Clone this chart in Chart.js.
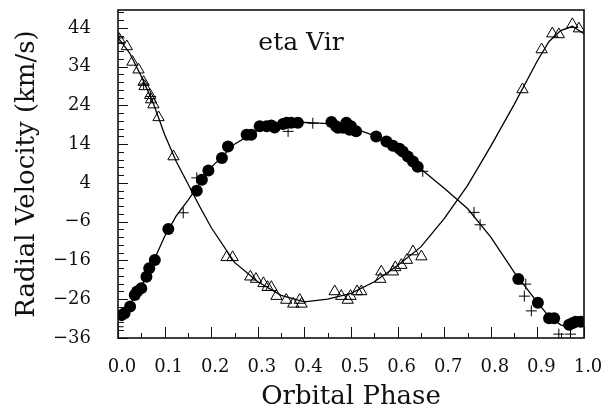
<!DOCTYPE html>
<html><head><meta charset="utf-8">
<script src="https://cdn.jsdelivr.net/npm/chart.js@4/dist/chart.umd.min.js"></script>
<style>html,body{margin:0;padding:0;background:#fff}</style>
</head><body>
<canvas id="c" width="604" height="408"></canvas>
<script>
// ---- data ----
const primaryPhase = [0.008,0.014,0.026,0.036,0.041,0.05,0.061,0.067,0.079,0.108,0.169,0.18,0.194,0.223,0.236,0.276,0.286,0.304,0.319,0.329,0.336,0.354,0.362,0.372,0.386,0.458,0.468,0.472,0.483,0.49,0.497,0.5,0.511,0.554,0.576,0.59,0.604,0.611,0.622,0.633,0.643,0.859,0.901,0.925,0.936,0.968,0.975,0.982,0.993];
const primaryVel   = [-30.1,-29.6,-27.9,-24.9,-24.0,-23.2,-20.2,-18.0,-15.9,-7.9,2.0,4.8,7.2,10.4,13.4,16.4,16.4,18.6,18.6,18.8,18.3,19.2,19.5,19.5,19.5,19.7,18.6,18.2,18.2,19.5,17.7,18.6,17.3,16.0,14.7,13.6,12.8,12.1,10.8,9.5,8.2,-20.8,-26.9,-30.9,-30.9,-32.6,-32.2,-31.8,-31.8];

const secondaryPhase = [0.003,0.019,0.031,0.044,0.055,0.057,0.069,0.071,0.076,0.087,0.119,0.233,0.246,0.284,0.296,0.312,0.321,0.329,0.34,0.361,0.376,0.39,0.394,0.465,0.479,0.493,0.499,0.513,0.522,0.563,0.565,0.59,0.595,0.608,0.62,0.633,0.651,0.868,0.909,0.932,0.946,0.975,0.989];
const secondaryVel   = [41.0,39.2,35.2,33.2,30.0,28.9,26.6,25.5,24.2,20.9,10.8,-15.2,-15.2,-20.2,-20.8,-21.9,-22.9,-22.9,-25.2,-26.2,-27.2,-26.2,-27.2,-24.0,-25.2,-26.2,-25.2,-24.0,-24.0,-20.8,-18.9,-18.9,-17.8,-17.2,-15.9,-13.7,-15.0,28.1,38.4,42.5,42.3,44.9,43.8];

const otherPhase = [0.002,0.055,0.07,0.0,0.14,0.169,0.365,0.418,0.654,0.764,0.777,0.875,0.872,0.887,0.946,0.971];
const otherVel   = [41.4,29.5,26.3,-33.1,-3.7,5.3,17.3,19.4,7.0,-3.6,-6.8,-22.1,-25.2,-29.0,-35.0,-35.0];

const fitPrimaryPhase = [0,0.025,0.05,0.075,0.1,0.125,0.15,0.175,0.2,0.25,0.3,0.35,0.4,0.45,0.5,0.55,0.6,0.65,0.7,0.75,0.8,0.85,0.9,0.925,0.95,0.965,1.0];
const fitPrimaryVel   = [-30.5,-27.5,-22.8,-16.5,-9.8,-4.5,-0.5,3.8,8.0,14.0,17.6,19.2,19.6,19.3,18.3,16.2,12.5,7.6,2.6,-2.6,-10.0,-19.0,-26.8,-30.5,-32.6,-33.2,-31.0];

const fitSecondaryPhase = [0,0.025,0.05,0.075,0.1,0.125,0.15,0.175,0.2,0.25,0.3,0.35,0.4,0.45,0.5,0.55,0.6,0.65,0.7,0.75,0.8,0.85,0.9,0.925,0.95,0.975,1.0];
const fitSecondaryVel   = [41.5,37.5,31.5,24.8,16.5,9.5,3.8,-2.0,-7.5,-16.5,-21.5,-25.0,-26.7,-26.0,-24.5,-21.5,-17.3,-12.5,-5.2,3.3,13.5,24.2,35.5,40.5,43.3,44.4,42.5];

const xTickLabels = [0.0,0.1,0.2,0.3,0.4,0.5,0.6,0.7,0.8,0.9,1.0];
const yTickLabels = [-36,-26,-16,-6,4,14,24,34,44];
const starName = 'eta Vir';
const xTitle = 'Orbital Phase';
const yTitle = 'Radial Velocity (km/s)';

// ---- chart ----
const pts = (xs, ys) => xs.map((x, i) => ({x, y: ys[i]}));
const FONT = "'DejaVu Serif', serif";
const INK = '#111';

const frameTicks = {
  id: 'frameTicks',
  afterDatasetsDraw(chart) {
    const {ctx, chartArea: a, scales: {x, y}} = chart;
    ctx.save();
    ctx.strokeStyle = INK;
    ctx.lineWidth = 1;
    for (let k = 0; k <= 20; k++) {
      const v = k * 0.05;
      const px = Math.round(x.getPixelForValue(v)) + 0.5;
      const len = (k % 2 === 0) ? 11 : 5;
      ctx.beginPath(); ctx.moveTo(px, a.bottom); ctx.lineTo(px, a.bottom - len); ctx.stroke();
    }
    for (let v = -36; v <= 48; v += 2) {
      const py = Math.round(y.getPixelForValue(v)) + 0.5;
      const len = yTickLabels.includes(v) ? 10 : 6;
      ctx.beginPath(); ctx.moveTo(a.left, py); ctx.lineTo(a.left + len, py); ctx.stroke();
    }
    ctx.lineWidth = 1.6;
    ctx.strokeRect(a.left, a.top, a.right - a.left, a.bottom - a.top);
    ctx.fillStyle = INK;
    ctx.font = "25px " + FONT;
    ctx.textAlign = 'center';
    ctx.textBaseline = 'alphabetic';
    ctx.fillText(starName, a.left + 183, a.top + 40);
    ctx.restore();
  }
};

const noPad = s => { s.paddingTop = 0; s.paddingBottom = 0; s.paddingLeft = 0; s.paddingRight = 0; };

new Chart(document.getElementById('c'), {
  type: 'scatter',
  data: {
    datasets: [
      {data: pts(primaryPhase, primaryVel), pointStyle: 'circle', pointRadius: 6, pointHoverRadius: 6,
       backgroundColor: '#000', borderColor: '#000', borderWidth: 0, order: 1},
      {data: pts(secondaryPhase, secondaryVel), pointStyle: 'triangle', pointRadius: 6.5, pointHoverRadius: 6.5,
       backgroundColor: 'rgba(0,0,0,0)', borderColor: '#000', borderWidth: 1, order: 2},
      {data: pts(otherPhase, otherVel), pointStyle: 'cross', pointRadius: 5.5, pointHoverRadius: 5.5,
       borderColor: '#000', borderWidth: 1, order: 3},
      {data: pts(fitPrimaryPhase, fitPrimaryVel), showLine: true, pointRadius: 0, borderColor: '#000',
       borderWidth: 1.3, tension: 0, order: 4},
      {data: pts(fitSecondaryPhase, fitSecondaryVel), showLine: true, pointRadius: 0, borderColor: '#000',
       borderWidth: 1.3, tension: 0, order: 5}
    ]
  },
  options: {
    responsive: false,
    animation: false,
    events: [],
    layout: {padding: {top: 10, right: 20, bottom: 0, left: 0}},
    plugins: {legend: {display: false}, tooltip: {enabled: false}},
    scales: {
      x: {
        type: 'linear', min: 0, max: 1,
        afterBuildTicks: s => { s.ticks = xTickLabels.map(v => ({value: v})); },
        afterFit: s => { s.height = 70; noPad(s); },
        grid: {display: false}, border: {display: false},
        ticks: {font: {family: FONT, size: 18}, color: INK, padding: 11, labelOffset: 4,
                autoSkip: false, maxRotation: 0, callback: v => Number(v).toFixed(1)},
        title: {display: true, text: xTitle, font: {family: FONT, size: 26}, color: INK, padding: {top: 0, bottom: -5}}
      },
      y: {
        type: 'linear', min: -36, max: 48.6,
        afterBuildTicks: s => { s.ticks = yTickLabels.map(v => ({value: v})); },
        afterFit: s => { s.width = 118; noPad(s); },
        grid: {display: false}, border: {display: false},
        ticks: {font: {family: FONT, size: 18}, color: INK, padding: 19, autoSkip: false,
                callback: v => (v < 0 ? '\u2212' + Math.abs(v) : String(v))},
        title: {display: true, text: yTitle, font: {family: FONT, size: 26}, color: INK, padding: {top: 12, bottom: 0}}
      }
    }
  },
  plugins: [frameTicks]
});
</script>
</body></html>
